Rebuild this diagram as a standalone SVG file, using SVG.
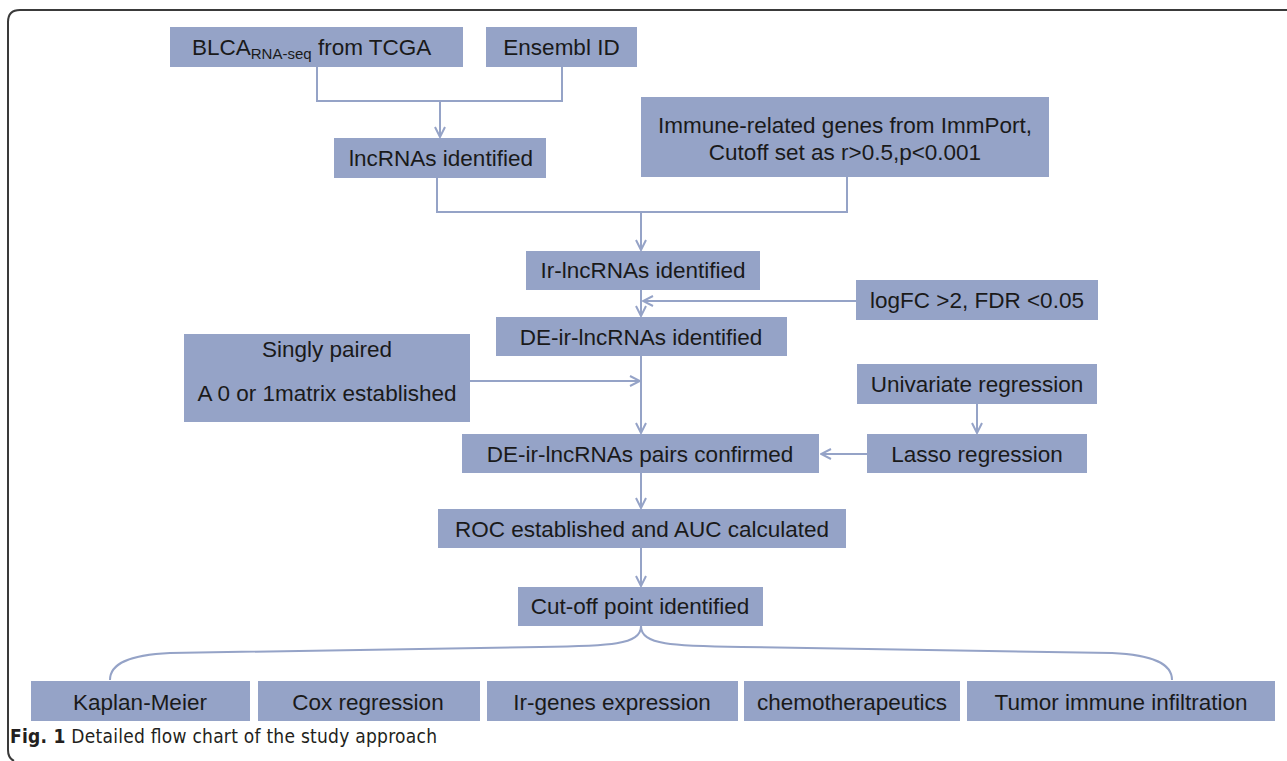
<svg xmlns="http://www.w3.org/2000/svg" width="1287" height="761" viewBox="0 0 1287 761">
<defs>
<style>
.box{fill:#95A3C7;}
.t{font-family:"Liberation Sans",Arial,sans-serif;font-size:22.5px;fill:#1a1a1a;text-anchor:middle;dominant-baseline:central;}
.ln{fill:none;stroke:#95A3C7;stroke-width:2;}
.cap{font-family:"Liberation Sans Narrow","DejaVu Sans Condensed",sans-serif;font-size:19px;fill:#231f20;}
</style>
<marker id="ah" viewBox="0 0 12 12" refX="11" refY="6" markerWidth="12" markerHeight="12" markerUnits="userSpaceOnUse" orient="auto">
<path d="M1,1 L11,6 L1,11" fill="none" stroke="#95A3C7" stroke-width="2"/>
</marker>
</defs>
<rect width="1287" height="761" fill="#ffffff"/>
<path d="M1287,10 L20,10 Q8,10 8,22 L8,750 Q8,758 14,761" fill="none" stroke="#3a3a3a" stroke-width="2"/>

<g id="connectors">
<path class="ln" d="M317,67 V101 H562 V67"/>
<path class="ln" d="M440,101 V137" marker-end="url(#ah)"/>
<path class="ln" d="M437,178 V212 H847 V177"/>
<path class="ln" d="M641,212 V250" marker-end="url(#ah)"/>
<path class="ln" d="M641,290 V316" marker-end="url(#ah)"/>
<path class="ln" d="M856,301 H643" marker-end="url(#ah)"/>
<path class="ln" d="M641,356 V433" marker-end="url(#ah)"/>
<path class="ln" d="M470,381 H640" marker-end="url(#ah)"/>
<path class="ln" d="M977,404 V433" marker-end="url(#ah)"/>
<path class="ln" d="M867,454 H821" marker-end="url(#ah)"/>
<path class="ln" d="M641,473 V508" marker-end="url(#ah)"/>
<path class="ln" d="M641,548 V586" marker-end="url(#ah)"/>
<path class="ln" d="M641,626 C641,645 610,646 540,647 L170,653 C128,655 110,664 110,680"/>
<path class="ln" d="M641,626 C641,645 672,646 742,647 L1112,653 C1154,655 1172,664 1172,680"/>
</g>

<g id="n-blca"><rect class="box" x="170" y="27" width="293" height="40"/>
<text class="t" y="47" style="text-anchor:start"><tspan x="192">BLCA</tspan><tspan dy="6" font-size="15">RNA-seq</tspan><tspan dy="-6"> from TCGA</tspan></text></g>
<g id="n-ensembl"><rect class="box" x="486" y="27" width="151" height="40"/><text class="t" x="561.5" y="47">Ensembl ID</text></g>
<g id="n-lnc"><rect class="box" x="334" y="138" width="212" height="40"/><text class="t" x="441" y="158">lncRNAs identified</text></g>
<g id="n-immune"><rect class="box" x="641" y="97" width="408" height="80"/><text class="t" x="845" y="125">Immune-related genes from ImmPort,</text><text class="t" x="845" y="152">Cutoff set as r&gt;0.5,p&lt;0.001</text></g>
<g id="n-ir"><rect class="box" x="526" y="251" width="234" height="39"/><text class="t" x="643" y="270">Ir-lncRNAs identified</text></g>
<g id="n-logfc"><rect class="box" x="856" y="280" width="242" height="40"/><text class="t" x="977" y="300">logFC &gt;2, FDR &lt;0.05</text></g>
<g id="n-de"><rect class="box" x="496" y="317" width="291" height="39"/><text class="t" x="641" y="337">DE-ir-lncRNAs identified</text></g>
<g id="n-singly"><rect class="box" x="184" y="334" width="286" height="88"/><text class="t" x="327" y="349">Singly paired</text><text class="t" x="327" y="393">A 0 or 1matrix established</text></g>
<g id="n-univ"><rect class="box" x="857" y="364" width="240" height="40"/><text class="t" x="977" y="384">Univariate regression</text></g>
<g id="n-lasso"><rect class="box" x="867" y="434" width="220" height="39"/><text class="t" x="977" y="454">Lasso regression</text></g>
<g id="n-pairs"><rect class="box" x="462" y="434" width="357" height="39"/><text class="t" x="640" y="454">DE-ir-lncRNAs pairs confirmed</text></g>
<g id="n-roc"><rect class="box" x="438" y="509" width="408" height="39"/><text class="t" x="642" y="529">ROC established and AUC calculated</text></g>
<g id="n-cutoff"><rect class="box" x="518" y="587" width="245" height="39"/><text class="t" x="640" y="606">Cut-off point identified</text></g>
<g id="n-km"><rect class="box" x="31" y="681" width="219" height="40"/><text class="t" x="140" y="702">Kaplan-Meier</text></g>
<g id="n-cox"><rect class="box" x="258" y="681" width="222" height="40"/><text class="t" x="368" y="702">Cox regression</text></g>
<g id="n-irgenes"><rect class="box" x="487" y="681" width="251" height="40"/><text class="t" x="612" y="702">Ir-genes expression</text></g>
<g id="n-chemo"><rect class="box" x="744" y="681" width="216" height="40"/><text class="t" x="852" y="702">chemotherapeutics</text></g>
<g id="n-tumor"><rect class="box" x="967" y="681" width="308" height="40"/><text class="t" x="1121" y="702">Tumor immune infiltration</text></g>

<text class="cap" x="10" y="743" textLength="427" lengthAdjust="spacing"><tspan font-weight="bold">Fig. 1</tspan><tspan>  Detailed flow chart of the study approach</tspan></text>
</svg>
